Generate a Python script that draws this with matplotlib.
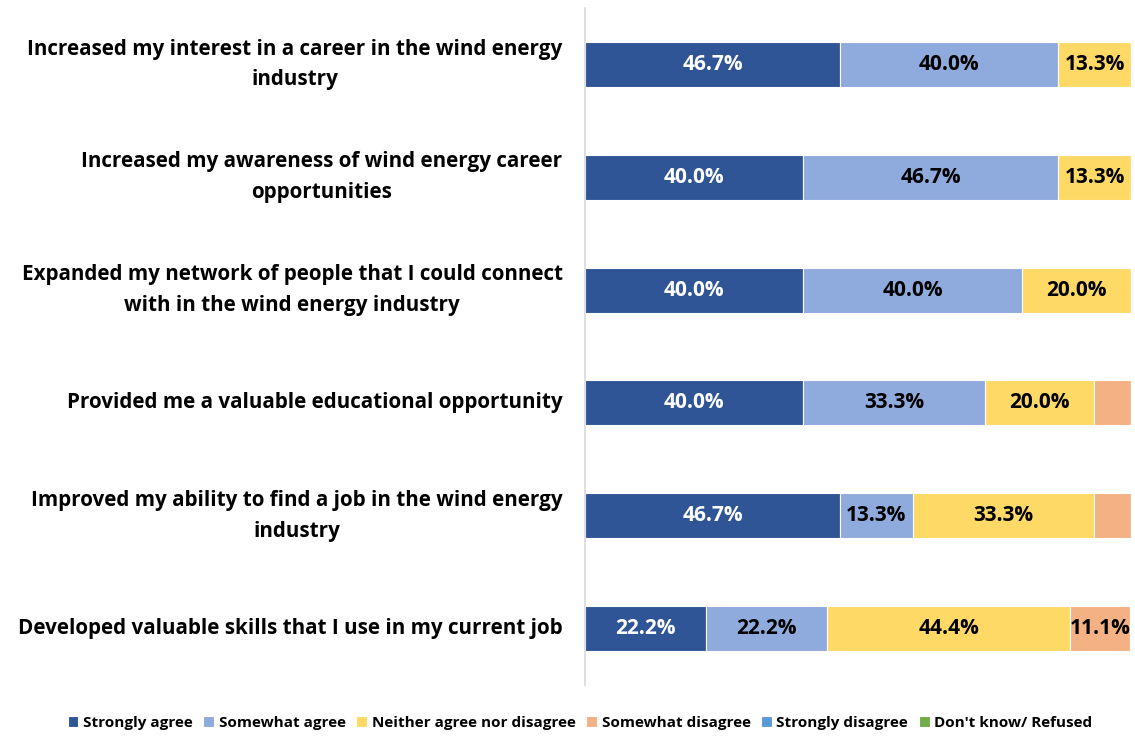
import matplotlib.pyplot as plt
import numpy as np

# survey statements, top to bottom
statements = [
    "Increased my interest in a career in the wind energy\nindustry",
    "Increased my awareness of wind energy career\nopportunities",
    "Expanded my network of people that I could connect\nwith in the wind energy industry",
    "Provided me a valuable educational opportunity",
    "Improved my ability to find a job in the wind energy\nindustry",
    "Developed valuable skills that I use in my current job",
]

responses = ["Strongly agree", "Somewhat agree", "Neither agree nor disagree",
             "Somewhat disagree", "Strongly disagree", "Don't know/ Refused"]

strongly_agree = [46.7, 40.0, 40.0, 40.0, 46.7, 22.2]
somewhat_agree = [40.0, 46.7, 40.0, 33.3, 13.3, 22.2]
neither = [13.3, 13.3, 20.0, 20.0, 33.3, 44.4]
somewhat_disagree = [0.0, 0.0, 0.0, 6.7, 6.7, 11.1]
strongly_disagree = [0.0, 0.0, 0.0, 0.0, 0.0, 0.0]
dont_know = [0.0, 0.0, 0.0, 0.0, 0.0, 0.0]

colors = ["#2F5597", "#8FAADC", "#FFD966", "#F4B183", "#5B9BD5", "#70AD47"]
text_colors = ["white", "black", "black", "black", "white", "white"]

plt.rcParams['font.family'] = ['Open Sans', 'DejaVu Sans']

fig = plt.figure(figsize=(11.35, 7.36), dpi=100)
ax = fig.add_axes([585 / 1135, 51 / 736, 546 / 1135, 677 / 736])

series = [strongly_agree, somewhat_agree, neither, somewhat_disagree,
          strongly_disagree, dont_know]
y = np.arange(len(statements))
left = np.zeros(len(statements))
for vals, col, tcol, name in zip(series, colors, text_colors, responses):
    vals = np.array(vals)
    bars = ax.barh(y, vals, left=left, height=0.4, color=col,
                   edgecolor="white", linewidth=0.8, label=name)
    for b, v in zip(bars, vals):
        if v >= 10:
            ax.text(b.get_x() + b.get_width() / 2, b.get_y() + b.get_height() / 2,
                    f"{v:.1f}%", ha="center", va="center", color=tcol,
                    fontsize=15, fontweight="bold")
    left += vals

ax.set_xlim(0, 100)
ax.set_ylim(len(statements) - 0.5, -0.5)
ax.set_xticks([])
ax.set_yticks([])
for s in ["top", "right", "bottom"]:
    ax.spines[s].set_visible(False)
ax.spines["left"].set_color("#D9D9D9")
ax.spines["left"].set_linewidth(1.2)

for i, s in enumerate(statements):
    ax.text(-4.1, i, s, ha="right", va="center", multialignment="center",
            fontsize=14.9, fontweight="bold", linespacing=1.6,
            transform=ax.transData)

fig.legend(loc="center", bbox_to_anchor=(580 / 1135, 1 - 723 / 736), ncol=6,
           frameon=False, handlelength=0.7, handleheight=0.7, handletextpad=0.3,
           columnspacing=0.7, prop={"size": 11, "weight": "bold"})

fig.savefig("out.png", dpi=100)
